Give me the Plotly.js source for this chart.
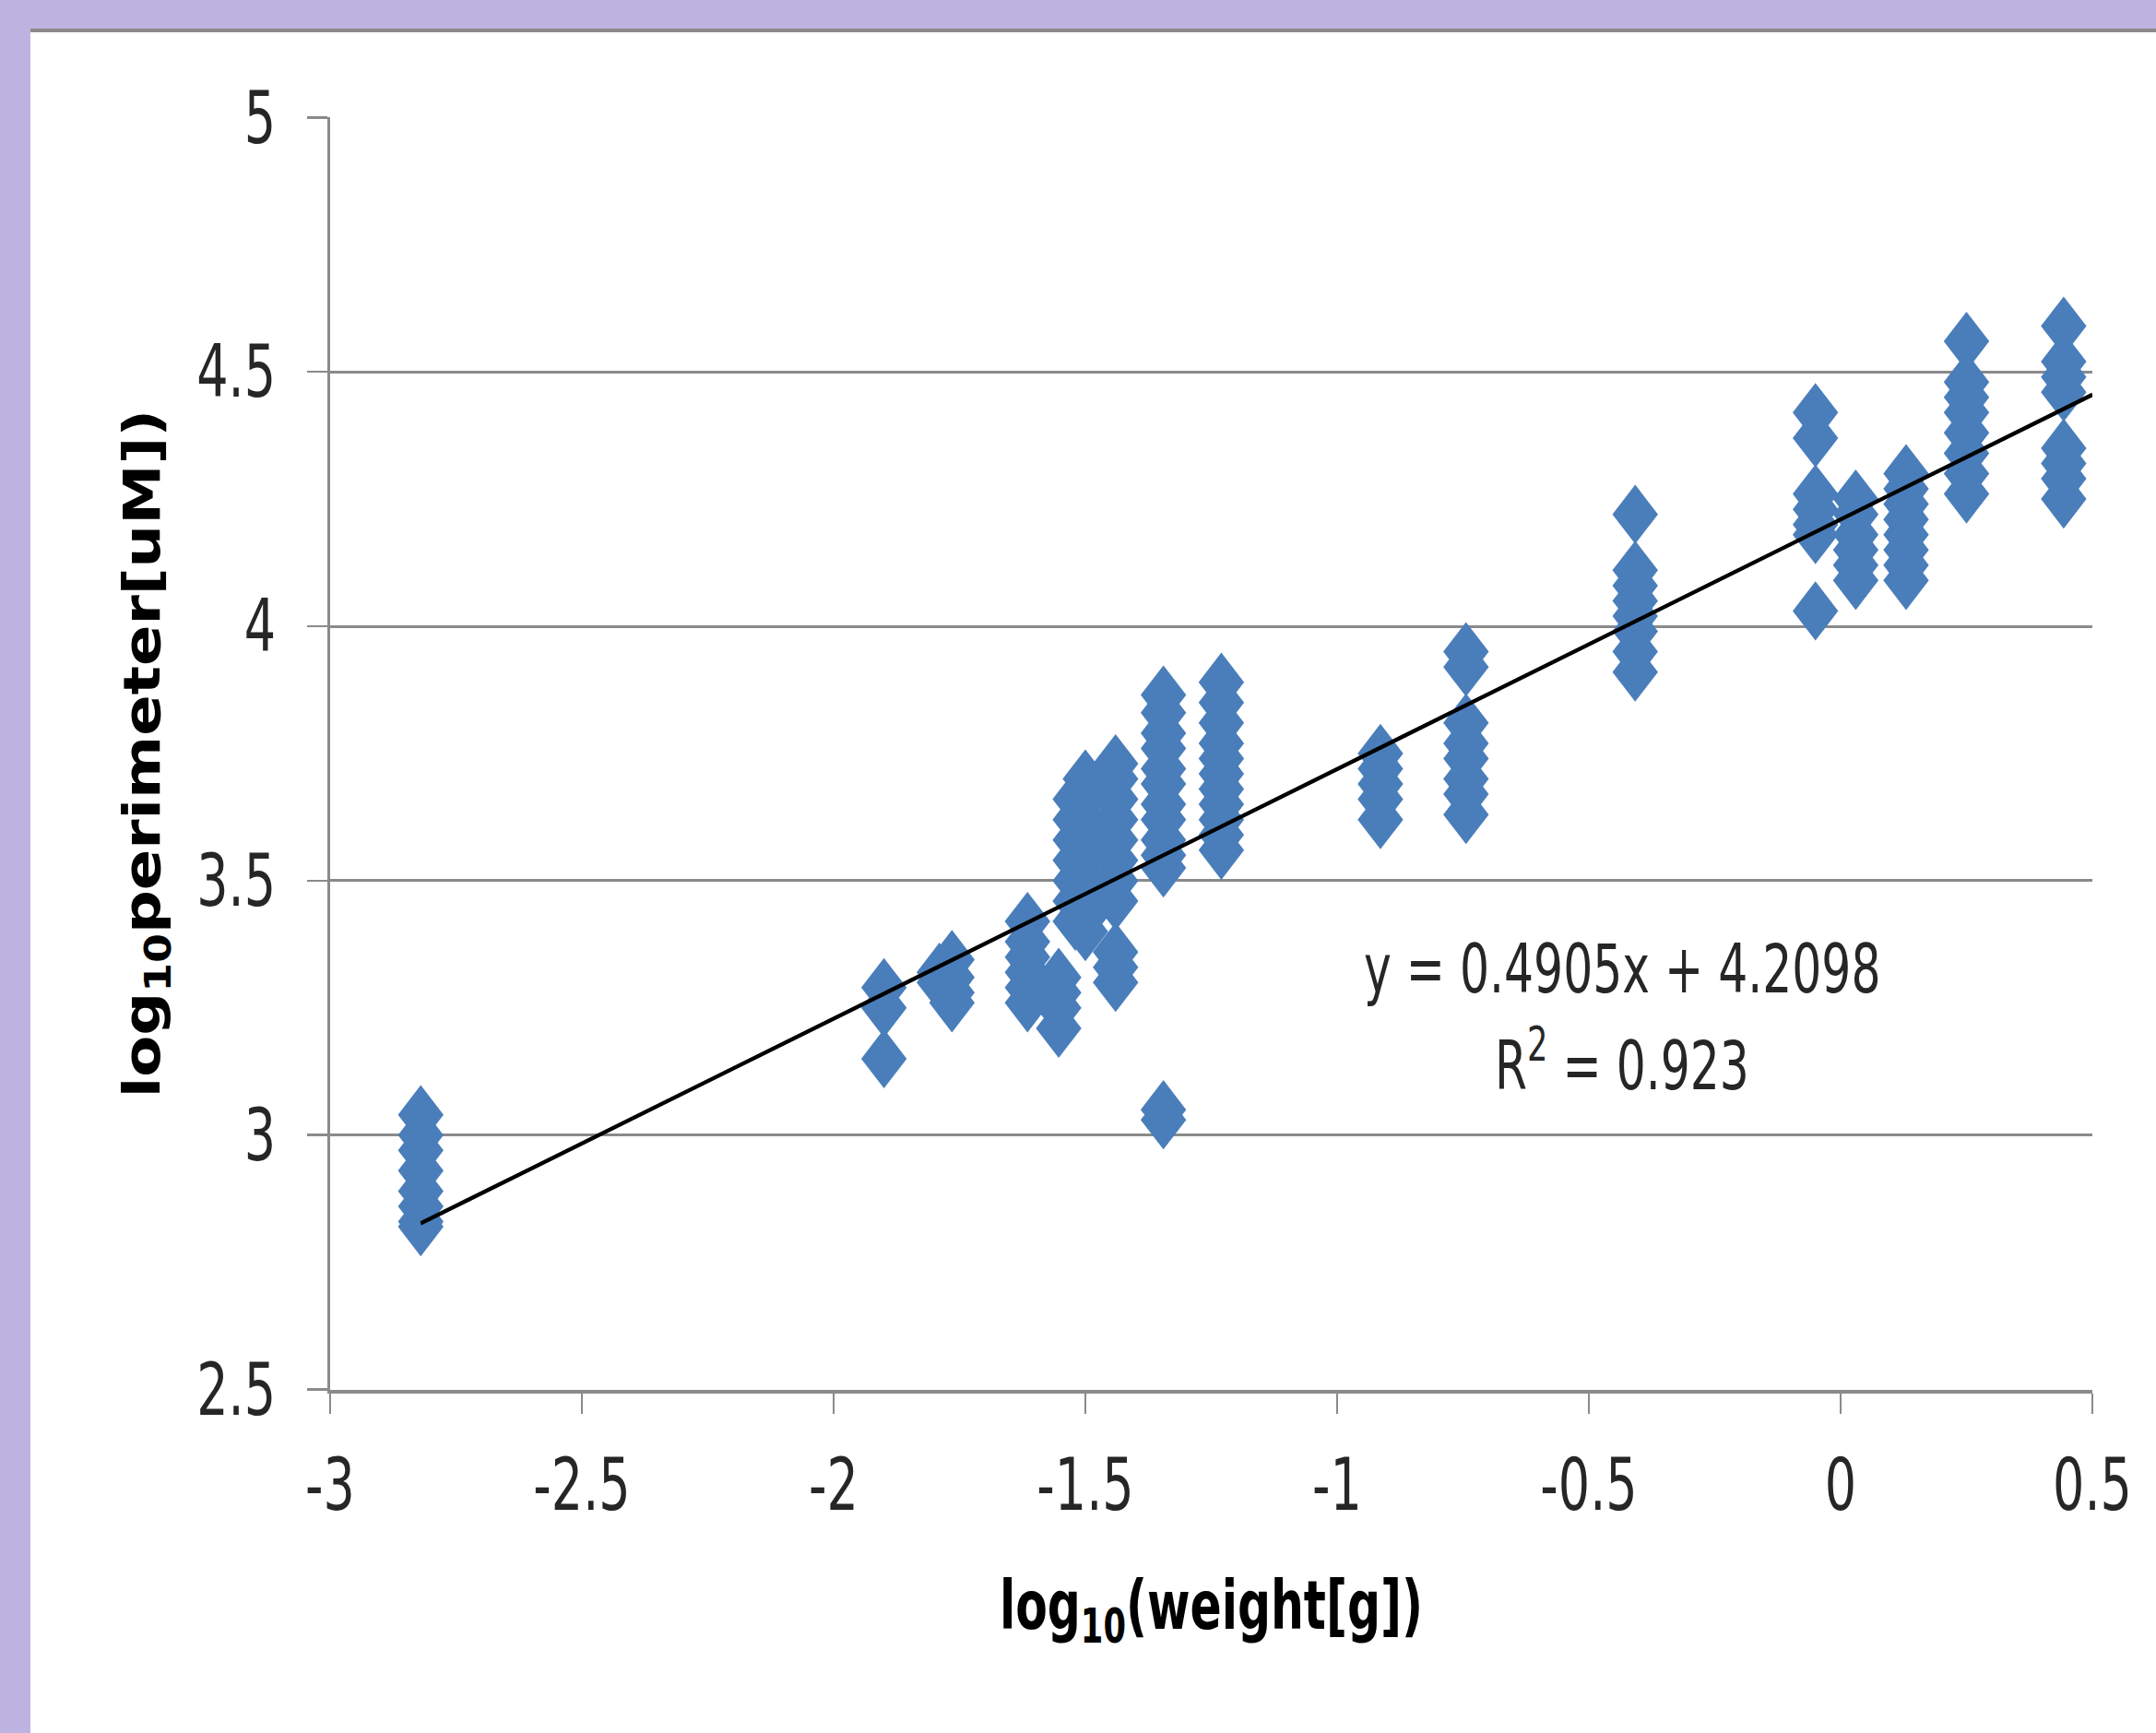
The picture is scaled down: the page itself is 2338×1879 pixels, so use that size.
<!DOCTYPE html>
<html>
<head>
<meta charset="utf-8">
<script src="https://cdn.plot.ly/plotly-3.0.1.min.js"></script>
<style>
  html, body { margin: 0; padding: 0; width: 2338px; height: 1879px; overflow: hidden; background: #bdb3e1; }
  #frame { position: absolute; left: 33px; top: 31px; width: 2305px; height: 1848px; background: #8a8a8a; }
  #page { position: absolute; left: 33px; top: 35px; width: 2305px; height: 1844px; background: #ffffff; overflow: hidden; }
  /* the reference picture is stretched vertically; reproduce that stretch */
  #chart { position: absolute; left: 0; top: 0; width: 2305px; height: 1418px; transform: scaleY(1.3); transform-origin: 0 0; }
</style>
</head>
<body>
<div id="frame"></div>
<div id="page"><div id="chart"></div></div>
<script>
// ---- data ----
const colA_x = -2.82,  colA_y = [3.04, 3.00, 2.97, 2.93, 2.89, 2.86, 2.83, 2.82];
const colB_x = -1.90,  colB_y = [3.29, 3.25, 3.15];
const colC1_x = -1.79, colC1_y = [3.32, 3.30];
const colC2_x = -1.765, colC2_y = [3.345, 3.31, 3.28, 3.26];
const colD_x = -1.615, colD_y = [3.42, 3.38, 3.35, 3.32, 3.29, 3.26];
const colE_x = -1.553, colE_y = [3.31, 3.28, 3.25, 3.21];
const colF1_x = -1.52, colF1_y = [3.66, 3.62, 3.58, 3.54, 3.50, 3.46, 3.42];
const colF2_x = -1.50, colF2_y = [3.70, 3.66, 3.62, 3.58, 3.54, 3.50, 3.46, 3.43, 3.40];
const colG_x = -1.44,  colG_y = [3.73, 3.70, 3.66, 3.62, 3.58, 3.54, 3.50, 3.46, 3.36, 3.33, 3.30];
const colH_x = -1.345, colH_y = [3.865, 3.83, 3.79, 3.76, 3.72, 3.69, 3.65, 3.62, 3.58, 3.55, 3.525, 3.05, 3.03];
const colI_x = -1.23,  colI_y = [3.89, 3.85, 3.81, 3.77, 3.74, 3.71, 3.68, 3.65, 3.62, 3.59, 3.56];
const colJ_x = -0.914, colJ_y = [3.75, 3.72, 3.69, 3.66, 3.62];
const colK_x = -0.744, colK_y = [3.95, 3.92, 3.81, 3.77, 3.74, 3.70, 3.67, 3.63];
const colL_x = -0.408, colL_y = [4.22, 4.11, 4.08, 4.05, 4.02, 3.99, 3.95, 3.91];
const colM_x = -0.05,  colM_y = [4.42, 4.37, 4.26, 4.23, 4.20, 4.18, 4.03];
const colN_x = 0.03,   colN_y = [4.25, 4.22, 4.18, 4.15, 4.12, 4.09];
const colO_x = 0.13,   colO_y = [4.30, 4.27, 4.24, 4.21, 4.18, 4.15, 4.12, 4.09];
const colP_x = 0.25,   colP_y = [4.56, 4.48, 4.45, 4.42, 4.38, 4.34, 4.30, 4.26];
const colQ_x = 0.443,  colQ_y = [4.59, 4.52, 4.49, 4.46, 4.35, 4.32, 4.29, 4.25];

const trendSlope = 0.4905;
const trendIntercept = 4.2098;
const trendX = [-2.82, 0.5];
const equationText = "y = 0.4905x + 4.2098";
const r2Text = "R<sup>2</sup> = 0.923";

const xTickVals = [-3, -2.5, -2, -1.5, -1, -0.5, 0, 0.5];
const xTickText = ["-3", "-2.5", "-2", "-1.5", "-1", "-0.5", "0", "0.5"];
const yTickVals = [2.5, 3, 3.5, 4, 4.5, 5];
const yTickText = ["2.5", "3", "3.5", "4", "4.5", "5"];

// ---- build the scatter from the columns ----
const columns = [
  [colA_x, colA_y], [colB_x, colB_y], [colC1_x, colC1_y], [colC2_x, colC2_y],
  [colD_x, colD_y], [colE_x, colE_y], [colF1_x, colF1_y], [colF2_x, colF2_y],
  [colG_x, colG_y], [colH_x, colH_y], [colI_x, colI_y], [colJ_x, colJ_y],
  [colK_x, colK_y], [colL_x, colL_y], [colM_x, colM_y], [colN_x, colN_y],
  [colO_x, colO_y], [colP_x, colP_y], [colQ_x, colQ_y]
];
const px = [], py = [];
columns.forEach(([x, ys]) => ys.forEach(y => { px.push(x); py.push(y); }));

const trendY = trendX.map(x => trendSlope * x + trendIntercept);

const cond = "DejaVu Sans Condensed, DejaVu Sans, sans-serif";

const data = [
  {
    type: "scatter", mode: "markers", x: px, y: py, showlegend: false,
    marker: { symbol: "diamond", size: 38, color: "#4a7ebb", line: { width: 0 } },
    hoverinfo: "x+y"
  },
  {
    type: "scatter", mode: "lines", x: trendX, y: trendY, showlegend: false,
    line: { color: "#000000", width: 3.5 }, hoverinfo: "skip"
  }
];

const layout = {
  width: 2305, height: 1418,
  margin: { l: 325, r: 69, t: 71, b: 286, pad: 0 },
  paper_bgcolor: "#ffffff", plot_bgcolor: "#ffffff",
  showlegend: false,
  xaxis: {
    range: [-3, 0.5], tickvals: xTickVals, ticktext: xTickText,
    showgrid: false, zeroline: false,
    showline: true, linecolor: "#8a8a8a", linewidth: 3,
    ticks: "outside", ticklen: 17, tickwidth: 2, tickcolor: "#8a8a8a",
    ticklabelstandoff: 8,
    tickfont: { family: cond, size: 60, color: "#262626" },
    title: { text: "log<sub>10</sub>(weight[g])", standoff: 48,
             font: { family: cond, size: 56, color: "#000000", weight: "bold" } },
    fixedrange: true
  },
  yaxis: {
    range: [2.5, 5], tickvals: yTickVals, ticktext: yTickText,
    showgrid: true, gridcolor: "#8a8a8a", gridwidth: 2.3,
    zeroline: false,
    showline: true, linecolor: "#8a8a8a", linewidth: 3,
    ticks: "outside", ticklen: 22, tickwidth: 2, tickcolor: "#8a8a8a",
    ticklabelstandoff: 22,
    tickfont: { family: cond, size: 60, color: "#262626" },
    title: { text: "log<sub>10</sub>perimeter[uM])", standoff: 22,
             font: { family: cond, size: 56, color: "#000000", weight: "bold" } },
    fixedrange: true
  },
  annotations: [
    { x: -0.434, y: 3.325, xref: "x", yref: "y", text: equationText, showarrow: false,
      xanchor: "center", yanchor: "middle",
      font: { family: cond, size: 56, color: "#262626" } },
    { x: -0.434, y: 3.144, xref: "x", yref: "y", text: r2Text, showarrow: false,
      xanchor: "center", yanchor: "middle",
      font: { family: cond, size: 56, color: "#262626" } }
  ]
};

Plotly.newPlot("chart", data, layout, { displayModeBar: false, staticPlot: true });
</script>
</body>
</html>
